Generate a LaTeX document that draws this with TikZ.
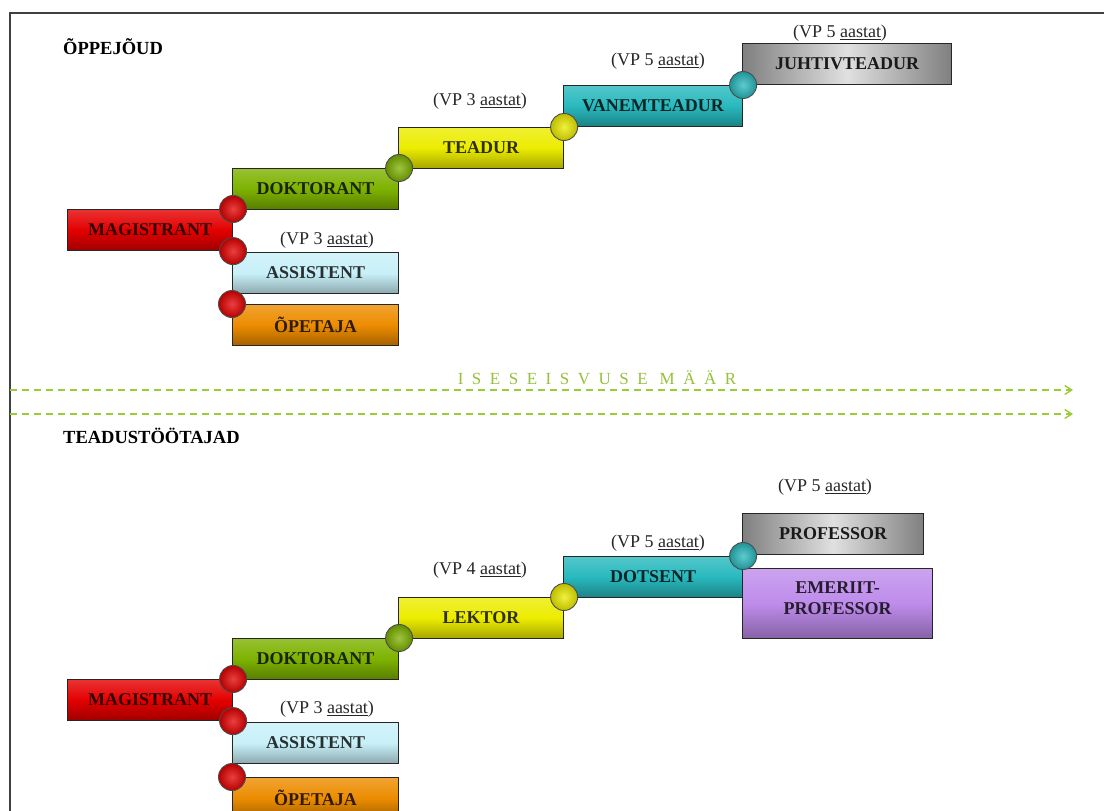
\documentclass[tikz,border=0pt]{standalone}
\usepackage{fontspec}
\setmainfont{Liberation Serif}
\usetikzlibrary{arrows.meta}
\definecolor{cred}{RGB}{228,0,0}
\definecolor{cgreen}{RGB}{125,178,0}
\definecolor{cyellow}{RGB}{236,236,0}
\definecolor{cteal}{RGB}{40,185,190}
\definecolor{ccyan}{RGB}{200,240,248}
\definecolor{corange}{RGB}{236,140,0}
\definecolor{cpurple}{RGB}{190,140,235}
\definecolor{dashgreen}{RGB}{154,205,50}
\definecolor{ratetext}{RGB}{150,192,60}
\newcommand\barfont{\bfseries\fontsize{18}{18}\selectfont}
\newcommand\vpfont{\fontsize{18}{18}\selectfont}
\newcommand\headfont{\bfseries\fontsize{18.5}{18.5}\selectfont}
\newcommand\vpyear{\underline{aastat}}
\tikzset{
  bar/.style={draw=black!85, line width=1.1pt, anchor=north west, inner sep=0pt,
    minimum height=41pt, font=\barfont, align=center,
    top color=#1!80!white, bottom color=#1!70!black, middle color=#1, text=#1!20!black},
  graybar/.style={draw=black!85, line width=1.1pt, anchor=north west, inner sep=0pt,
    minimum height=41pt, font=\barfont, align=center,
    left color=black!50, right color=black!50, middle color=black!12, text=black!90},
  joint/.style={circle, draw=black!70, line width=0.9pt, minimum size=27pt, inner sep=0pt,
    inner color=#1!75!white, outer color=#1!80!black},
  vp/.style={font=\vpfont, text=black!85, inner sep=0pt},
  head/.style={font=\headfont, anchor=west, inner sep=0pt},
  rate/.style={draw=dashgreen, line width=1.6pt, dash pattern=on 7pt off 5pt,
    -{Straight Barb[length=7pt,width=9pt,line width=1.4pt]}},
}
\begin{document}
\begin{tikzpicture}[x=1pt,y=-1pt]
\useasboundingbox (0,0) rectangle (1104,811);
\draw[black!75, line width=1.5pt] (10,815) -- (10,13) -- (1108,13);

% ---------- top: ÕPPEJÕUD ----------
\node[head] (h1) at (63,47) {ÕPPEJÕUD};
\node[graybar, minimum width=209pt] (juht) at (742,43) {JUHTIVTEADUR};
\node[bar=cteal, minimum width=179pt] (van) at (563,85) {VANEMTEADUR};
\node[bar=cyellow, minimum width=165pt] (tea) at (398,127) {TEADUR};
\node[bar=cgreen, minimum width=166pt] (dok1) at (232,168) {DOKTORANT};
\node[bar=cred, minimum width=165pt] (mag1) at (67,209) {MAGISTRANT};
\node[bar=ccyan, minimum width=166pt] (ass1) at (232,252) {ASSISTENT};
\node[bar=corange, minimum width=166pt] (ope1) at (232,304) {ÕPETAJA};

\node[vp] (vpj) at (840,33) {(VP 5 \vpyear)};
\node[vp] (vpv) at (658,61) {(VP 5 \vpyear)};
\node[vp] (vpt) at (480,101) {(VP 3 \vpyear)};
\node[vp] (vpa1) at (327,240) {(VP 3 \vpyear)};

\node[joint=cteal] (j1) at (van.north east) {};
\node[joint=cyellow] (j2) at (tea.north east) {};
\node[joint=cgreen] (j3) at (dok1.north east) {};
\node[joint=cred] (j4) at (mag1.north east) {};
\node[joint=cred] (j5) at (mag1.south east) {};
\node[joint=cred] (j6) at (ope1.north west) {};

% ---------- middle ----------
\coordinate (r1s) at (10,390);
\coordinate (r1e) at (1073,390);
\coordinate (r2s) at (10,414);
\coordinate (r2e) at (1073,414);
\draw[rate] (r1s) -- (r1e);
\draw[rate] (r2s) -- (r2e);
\node[font=\fontsize{17}{17}\selectfont\addfontfeature{LetterSpace=50}, text=ratetext, inner sep=0pt] (rate) at (597,378) {ISESEISVUSE\hspace{12pt}MÄÄR};

% ---------- bottom: TEADUSTÖÖTAJAD ----------
\node[head] (h2) at (63,436) {TEADUSTÖÖTAJAD};
\node[graybar, minimum width=181pt] (prof) at (742,513) {PROFESSOR};
\node[bar=cpurple, minimum width=190pt, minimum height=70pt] (emer) at (742,568) {EMERIIT-\\[3pt]PROFESSOR\\[-8pt]{}};
\node[bar=cteal, minimum width=179pt] (dots) at (563,556) {DOTSENT};
\node[bar=cyellow, minimum width=165pt] (lek) at (398,597) {LEKTOR};
\node[bar=cgreen, minimum width=166pt] (dok2) at (232,638) {DOKTORANT};
\node[bar=cred, minimum width=165pt] (mag2) at (67,679) {MAGISTRANT};
\node[bar=ccyan, minimum width=166pt] (ass2) at (232,722) {ASSISTENT};
\node[bar=corange, minimum width=166pt] (ope2) at (232,777) {ÕPETAJA};

\node[vp] (vpp) at (825,487) {(VP 5 \vpyear)};
\node[vp] (vpd) at (658,543) {(VP 5 \vpyear)};
\node[vp] (vpl) at (480,570) {(VP 4 \vpyear)};
\node[vp] (vpa2) at (327,709) {(VP 3 \vpyear)};

\node[joint=cteal] (k1) at (dots.north east) {};
\node[joint=cyellow] (k2) at (lek.north east) {};
\node[joint=cgreen] (k3) at (dok2.north east) {};
\node[joint=cred] (k4) at (mag2.north east) {};
\node[joint=cred] (k5) at (mag2.south east) {};
\node[joint=cred] (k6) at (ope2.north west) {};
\end{tikzpicture}
\end{document}
